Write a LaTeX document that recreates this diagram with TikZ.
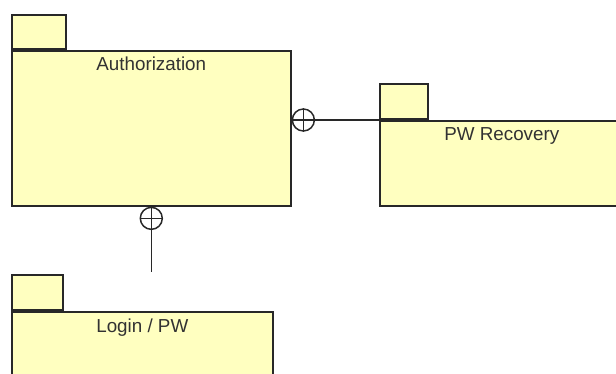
\documentclass[tikz,border=0pt]{standalone}
\usepackage{fontspec}
\setmainfont{Liberation Sans}
\usetikzlibrary{positioning}
\definecolor{pkgfill}{RGB}{255,255,192}
\definecolor{pkgline}{RGB}{40,40,40}
\definecolor{pkgtext}{RGB}{50,50,50}

\begin{document}
\begin{tikzpicture}[x=1pt, y=-1pt,
    pkgbody/.style={draw=pkgline, fill=pkgfill, line width=1.6pt, anchor=north west, inner sep=0pt},
    pkgtab/.style={draw=pkgline, fill=pkgfill, line width=1.6pt, anchor=south west, inner sep=0pt},
    pkglabel/.style={text=pkgtext, font=\fontsize{18.8}{22}\selectfont, anchor=base},
    conn/.style={draw=pkgline, line width=1.5pt},
    nest/.style={circle, draw=pkgline, line width=1.5pt, minimum size=22pt, inner sep=0pt}]
    \useasboundingbox (0,0) rectangle (616,374);
    \clip (0,0) rectangle (616,374);

    % Authorization
    \node[pkgbody, minimum width=279pt, minimum height=155pt] (auth) at (11,50) {};
    \node[pkgtab, minimum width=54pt, minimum height=34pt] (authTab) at (auth.north west) {};
    \node[pkglabel] (authLabel) at ([yshift=-21pt]auth.north) {Authorization};

    % PW Recovery
    \node[pkgbody, minimum width=244pt, minimum height=85pt] (recov) at (379,120) {};
    \node[pkgtab, minimum width=48pt, minimum height=35pt] (recovTab) at (recov.north west) {};
    \node[pkglabel] (recovLabel) at ([yshift=-21pt]recov.north) {PW Recovery};

    % Login / PW
    \node[pkgbody, minimum width=261pt, minimum height=100pt] (login) at (11,311) {};
    \node[pkgtab, minimum width=51pt, minimum height=35pt] (loginTab) at (login.north west) {};
    \node[pkglabel] (loginLabel) at ([yshift=-21pt]login.north) {Login / PW};

    % containment: Authorization -> PW Recovery
    \node[nest, anchor=west] (nestR) at (auth.east |- recov.north west) {};
    \draw[conn] (nestR.north) -- (nestR.south);
    \draw[conn] (auth.east |- nestR.center) -- (recov.north west);

    % containment: Authorization -> Login / PW
    \node[nest, anchor=north] (nestB) at (auth.south) {};
    \coordinate (loginEnd) at ([yshift=2pt]nestB.south |- loginTab.north);
    \draw[conn] (nestB.west) -- (nestB.east);
    \draw[conn] (nestB.north) -- (loginEnd);
\end{tikzpicture}
\end{document}
